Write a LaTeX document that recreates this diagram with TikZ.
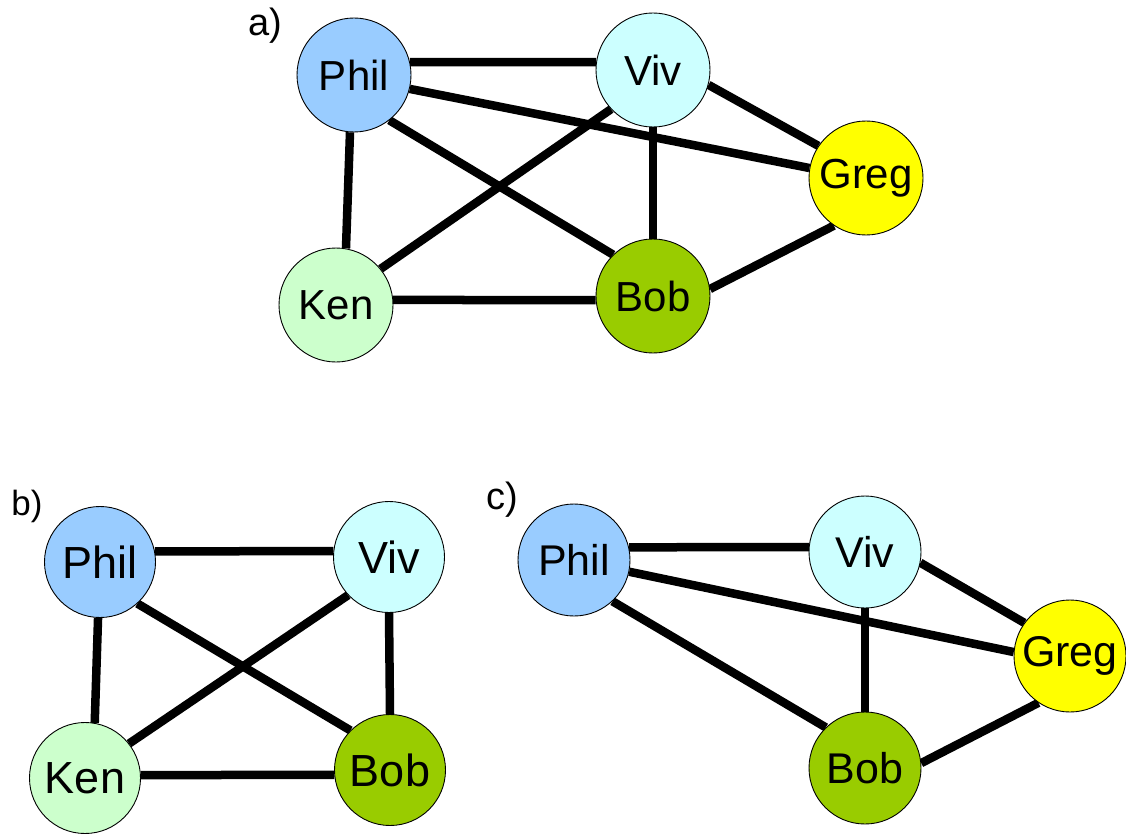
\documentclass[tikz,border=0pt]{standalone}
\usepackage{fontspec}
\setmainfont{Liberation Sans}
\usetikzlibrary{backgrounds}
\definecolor{philc}{HTML}{99CCFF}
\definecolor{vivc}{HTML}{CCFFFF}
\definecolor{gregc}{HTML}{FFFF00}
\definecolor{kenc}{HTML}{CCFFCC}
\definecolor{bobc}{HTML}{99CC00}
\tikzset{
  person/.style={circle, draw=black, line width=0.9pt, minimum size=114pt, inner sep=0pt},
  edge/.style={line width=8.5pt, black},
  panel/.style={font=\fontsize{38}{44}\selectfont, inner sep=0pt},
  fa/.style={font=\fontsize{42}{50}\selectfont},
  fb/.style={font=\fontsize{45}{54}\selectfont},
  fc/.style={font=\fontsize{43}{52}\selectfont}
}
\begin{document}
\begin{tikzpicture}[x=1pt,y=-1pt]
\useasboundingbox (0,0) rectangle (1126,837);
% ---- a)
\node[panel] (la) at (265,26) {a)};
\node[person, fa, fill=philc] (aphil) at (354,75) {Phil};
\node[person, fa, fill=vivc] (aviv) at (653,70) {Viv};
\node[person, fa, fill=gregc] (agreg) at (866,178) {Greg};
\node[person, fa, fill=kenc] (aken) at (336,305) {Ken};
\node[person, fa, fill=bobc] (abob) at (653,296) {Bob};
% ---- b)
\node[panel, font=\fontsize{35}{42}\selectfont] (lb) at (27,506) {b)};
\node[person, fb, fill=philc, minimum size=111pt] (bphil) at (100,562) {Phil};
\node[person, fb, fill=vivc, minimum size=111pt] (bviv) at (389,557) {Viv};
\node[person, fb, fill=kenc, minimum size=111pt] (bken) at (85,778) {Ken};
\node[person, fb, fill=bobc, minimum size=111pt] (bbob) at (390,770) {Bob};
% ---- c)
\node[panel] (lc) at (502,500) {c)};
\node[person, fc, fill=philc, minimum size=112pt] (cphil) at (574,560) {Phil};
\node[person, fc, fill=vivc, minimum size=112pt] (cviv) at (865,552) {Viv};
\node[person, fc, fill=gregc, minimum size=112pt] (cgreg) at (1070,656) {Greg};
\node[person, fc, fill=bobc, minimum size=112pt] (cbob) at (865,768) {Bob};
\begin{scope}[on background layer]
% a) edges
\draw[edge] (aphil.13) -- (aviv.172);
\draw[edge] (aphil.-14) -- (agreg.170);
\draw[edge] (aphil.266) -- (aken.80);
\draw[edge] (aphil.-52) -- (abob.134);
\draw[edge] (aviv.223) -- (aken.39);
\draw[edge] (aviv.270) -- (abob.90);
\draw[edge] (aviv.-15) -- (agreg.146);
\draw[edge] (aken.5) -- (abob.184);
\draw[edge] (abob.7) -- (agreg.236);
% b) edges
\draw[edge] (bphil.11) -- (bviv.174);
\draw[edge] (bphil.268) -- (bken.80);
\draw[edge] (bphil.-48) -- (bbob.135);
\draw[edge] (bviv.223) -- (bken.38);
\draw[edge] (bviv.270) -- (bbob.90);
\draw[edge] (bken.3) -- (bbob.185);
% c) edges
\draw[edge] (cphil.13) -- (cviv.175);
\draw[edge] (cphil.-12) -- (cgreg.176);
\draw[edge] (cphil.-47) -- (cbob.134);
\draw[edge] (cviv.-11) -- (cgreg.144);
\draw[edge] (cviv.270) -- (cbob.90);
\draw[edge] (cbob.5) -- (cgreg.236);
\end{scope}
\end{tikzpicture}
\end{document}
